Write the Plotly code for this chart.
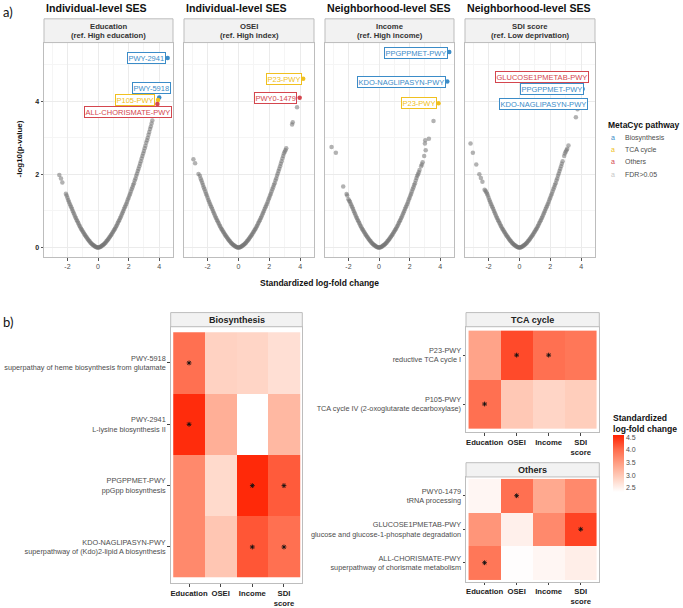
import plotly.graph_objects as go

W, H = 683, 608
FONT = "Liberation Sans, Arial, sans-serif"

BLUE = "#3B8CC8"
YELLOW = "#F0C020"
RED = "#D4464E"
GREY_PT = "rgba(115,115,115,0.55)"
path_colors = {"Biosynthesis": BLUE, "TCA cycle": YELLOW, "Others": RED}


def px(x):
    return x / W


def py(y):
    return 1 - y / H


# ---------------- a) volcano data ----------------
# shared dense centre of the V (pathways far from significance)
core_lfc = [-1.9, -1.8, -1.7, -1.6, -1.5, -1.4, -1.3, -1.2, -1.1, -1.0, -0.9, -0.8, -0.7,
            -0.6, -0.5, -0.4, -0.3, -0.2, -0.1, 0.0, 0.1, 0.2, 0.3, 0.4, 0.5, 0.6, 0.7,
            0.8, 0.9, 1.0, 1.1, 1.2, 1.3, 1.4, 1.5, 1.6, 1.7, 1.8, 1.9, 2.0, 2.1, 2.2, 2.3]
core_logp = [1.25, 1.15, 1.05, 0.95, 0.85, 0.76, 0.68, 0.59, 0.51, 0.44, 0.37, 0.31, 0.25,
             0.19, 0.14, 0.10, 0.06, 0.03, 0.01, 0.0, 0.01, 0.03, 0.06, 0.10, 0.14, 0.19, 0.25,
             0.31, 0.37, 0.44, 0.51, 0.59, 0.68, 0.76, 0.85, 0.95, 1.05, 1.15, 1.25, 1.36, 1.47, 1.59, 1.71]
core2_lfc = [-1.85, -1.75, -1.65, -1.55, -1.45, -1.35, -1.25, -1.15, -1.05, -0.95, -0.85, -0.75,
             -0.65, -0.55, -0.45, -0.35, -0.25, -0.15, -0.05, 0.05, 0.15, 0.25, 0.35, 0.45, 0.55,
             0.65, 0.75, 0.85, 0.95, 1.05, 1.15, 1.25, 1.35, 1.45, 1.55, 1.65, 1.75, 1.85, 1.95,
             2.05, 2.15, 2.25]
core2_logp = [1.20, 1.10, 1.00, 0.90, 0.81, 0.72, 0.63, 0.55, 0.48, 0.41, 0.34, 0.28,
              0.22, 0.17, 0.12, 0.08, 0.05, 0.02, 0.003, 0.003, 0.02, 0.05, 0.08, 0.12, 0.17,
              0.22, 0.28, 0.34, 0.41, 0.48, 0.55, 0.63, 0.72, 0.81, 0.90, 1.00, 1.10, 1.20, 1.31,
              1.42, 1.53, 1.65]

edu_tail_lfc = [-1.95, -2.0, -2.05, -2.1, -2.33, -2.42, -2.53, 2.35, 2.4, 2.45, 2.5, 2.55, 2.6,
                2.65, 2.7, 2.75, 2.8, 2.85, 2.9, 2.95, 3.0, 3.05, 3.1, 3.15, 3.2, 3.25, 3.3,
                3.35, 3.4, 3.45, 3.5, 3.55]
edu_tail_logp = [1.30, 1.36, 1.42, 1.47, 1.78, 1.89, 1.98, 1.76, 1.83, 1.89, 1.96, 2.02, 2.09,
                 2.15, 2.22, 2.29, 2.36, 2.43, 2.50, 2.57, 2.64, 2.71, 2.78, 2.86, 2.93, 3.00,
                 3.08, 3.16, 3.24, 3.31, 3.39, 3.47]
osei_tail_lfc = [-1.95, -2.0, -2.05, -2.1, -2.15, -2.2, -2.25, -2.3, -2.35, -2.4, -2.45, -2.5,
                 -2.59, -2.81, -2.92, 2.35, 2.4, 2.45, 2.5, 2.55, 2.6, 2.65, 2.7, 2.75, 2.8, 2.85,
                 2.9, 2.95, 3.0, 3.05, 3.1, 3.48, 3.52, 3.8]
osei_tail_logp = [1.30, 1.36, 1.42, 1.47, 1.53, 1.59, 1.65, 1.71, 1.77, 1.83, 1.89, 1.96,
                  2.01, 2.30, 2.41, 1.76, 1.83, 1.89, 1.96, 2.02, 2.09, 2.15, 2.22, 2.29, 2.36, 2.43,
                  2.50, 2.57, 2.62, 2.66, 2.71, 3.36, 3.42, 3.83]
inc_tail_lfc = [-1.95, -2.0, -2.08, -2.12, -2.34, -2.82, -3.1, 2.35, 2.4, 2.45, 2.5, 2.55, 2.6,
                2.65, 2.75, 2.8, 2.85, 2.95, 3.05, 3.0, 3.02, 3.26, 3.56]
inc_tail_logp = [1.28, 1.32, 1.42, 1.46, 1.67, 2.59, 2.75, 1.76, 1.83, 1.90, 1.96, 2.00, 2.06,
                 2.12, 2.22, 2.27, 2.33, 2.50, 2.66, 2.84, 2.93, 2.97, 3.46]
sdi_tail_lfc = [-1.95, -2.0, -2.05, -2.1, -2.15, -2.2, -2.26, -2.4, -2.5, -2.6, -2.8, -3.02,
                -3.17, 2.35, 2.4, 2.45, 2.5, 2.55, 2.6, 2.65, 2.7, 2.75, 2.8, 2.9, 2.95, 3.0,
                3.05, 3.1, 3.18, 3.66, 3.77]
sdi_tail_logp = [1.30, 1.36, 1.42, 1.47, 1.51, 1.55, 1.58, 1.80, 1.90, 2.00, 2.27, 2.59,
                 2.84, 1.76, 1.83, 1.89, 1.96, 2.02, 2.09, 2.15, 2.22, 2.29, 2.36, 2.50, 2.57, 2.62,
                 2.66, 2.70, 2.79, 3.56, 3.78]

edu_sig_name = ["PWY-2941", "PWY-5918", "P105-PWY", "ALL-CHORISMATE-PWY"]
edu_sig_path = ["Biosynthesis", "Biosynthesis", "TCA cycle", "Others"]
edu_sig_lfc = [4.55, 4.0, 3.92, 3.88]
edu_sig_logp = [5.18, 4.10, 4.03, 3.92]
osei_sig_name = ["P23-PWY", "PWY0-1479"]
osei_sig_path = ["TCA cycle", "Others"]
osei_sig_lfc = [4.2, 3.97]
osei_sig_logp = [4.61, 4.09]
inc_sig_name = ["PPGPPMET-PWY", "KDO-NAGLIPASYN-PWY", "P23-PWY"]
inc_sig_path = ["Biosynthesis", "Biosynthesis", "TCA cycle"]
inc_sig_lfc = [4.59, 4.46, 3.89]
inc_sig_logp = [5.34, 4.54, 3.94]
sdi_sig_name = ["GLUCOSE1PMETAB-PWY", "PPGPPMET-PWY", "KDO-NAGLIPASYN-PWY"]
sdi_sig_path = ["Others", "Biosynthesis", "Biosynthesis"]
sdi_sig_lfc = [4.3, 4.1, 4.2]
sdi_sig_logp = [4.68, 4.33, 3.93]

# ---------------- b) heatmap data ----------------
ses_cols = ["Education", "OSEI", "Income", "SDI<br>score"]
bio_rows = ["PWY-5918<br>superpathay of heme biosynthesis from glutamate",
            "PWY-2941<br>L-lysine biosynthesis II",
            "PPGPPMET-PWY<br>ppGpp biosynthesis",
            "KDO-NAGLIPASYN-PWY<br>superpathway of (Kdo)2-lipid A biosynthesis"]
bio_lfc = [[3.97, 2.88, 2.84, 2.72],
           [4.51, 3.29, 2.30, 3.18],
           [3.70, 2.79, 4.53, 4.15],
           [3.70, 3.02, 4.19, 3.97]]
bio_star = [[1, 0, 0, 0], [1, 0, 0, 0], [0, 0, 1, 1], [0, 0, 1, 1]]
tca_rows = ["P23-PWY<br>reductive TCA cycle I",
            "P105-PWY<br>TCA cycle IV (2-oxoglutarate decarboxylase)"]
tca_lfc = [[3.42, 4.28, 3.97, 3.90],
           [3.97, 3.00, 2.84, 2.93]]
tca_star = [[0, 1, 1, 0], [1, 0, 0, 0]]
oth_rows = ["PWY0-1479<br>tRNA processing",
            "GLUCOSE1PMETAB-PWY<br>glucose and glucose-1-phosphate degradation",
            "ALL-CHORISMATE-PWY<br>superpathway of chorismate metabolism"]
oth_lfc = [[2.45, 3.97, 3.36, 3.70],
           [3.58, 2.52, 3.70, 4.33],
           [3.90, 2.36, 2.45, 2.54]]
oth_star = [[0, 1, 0, 0], [0, 0, 0, 1], [1, 0, 0, 0]]

fig = go.Figure()
annotations = []
shapes = []


def note(x, y, text, size, color="#111", bold=False, anchor="center", **kw):
    # text placed in page pixels, vertically centred on y
    annotations.append(dict(
        x=px(x), y=py(y), xref="paper", yref="paper", text=text, showarrow=False,
        xanchor=anchor, yanchor="middle",
        font=dict(size=size, color=color, family=kw.pop("family", FONT),
                  weight="bold" if bold else "normal"), **kw))


volcano = [
    dict(title="Individual-level SES", strip=("Education", "(ref. High education)"),
         tx=edu_tail_lfc, ty=edu_tail_logp, sx=edu_sig_lfc, sy=edu_sig_logp,
         sn=edu_sig_name, sp=edu_sig_path, left=44, right=173,
         lab=[(4.42, 5.18), (4.75, 4.35), (3.73, 4.04), (4.82, 3.70)]),
    dict(title="Individual-level SES", strip=("OSEI", "(ref. High index)"),
         tx=osei_tail_lfc, ty=osei_tail_logp, sx=osei_sig_lfc, sy=osei_sig_logp,
         sn=osei_sig_name, sp=osei_sig_path, left=184, right=314,
         lab=[(4.14, 4.60), (3.82, 4.08)]),
    dict(title="Neighborhood-level SES", strip=("Income", "(ref. High income)"),
         tx=inc_tail_lfc, ty=inc_tail_logp, sx=inc_sig_lfc, sy=inc_sig_logp,
         sn=inc_sig_name, sp=inc_sig_path, left=325, right=454,
         lab=[(4.54, 5.31), (4.39, 4.53), (3.78, 3.94)]),
    dict(title="Neighborhood-level SES", strip=("SDI score", "(ref. Low deprivation)"),
         tx=sdi_tail_lfc, ty=sdi_tail_logp, sx=sdi_sig_lfc, sy=sdi_sig_logp,
         sn=sdi_sig_name, sp=sdi_sig_path, left=465, right=595,
         lab=[(4.54, 4.65), (4.21, 4.32), (4.43, 3.93)]),
]

V_TOP, V_BOT = 43, 260
for i, p in enumerate(volcano):
    n = i + 1
    xa, ya = ("x", "y") if n == 1 else (f"x{n}", f"y{n}")
    fig.add_trace(go.Scatter(
        x=core_lfc + core2_lfc + p["tx"], y=core_logp + core2_logp + p["ty"], mode="markers",
        marker=dict(size=4.5, color=GREY_PT, line=dict(width=0)),
        xaxis=xa, yaxis=ya, showlegend=False, hoverinfo="skip"))
    fig.add_trace(go.Scatter(
        x=p["sx"], y=p["sy"], mode="markers",
        marker=dict(size=4.5, color=[path_colors[c] for c in p["sp"]]),
        xaxis=xa, yaxis=ya, showlegend=False, hoverinfo="skip"))
    for name, path, (lx, ly) in zip(p["sn"], p["sp"], p["lab"]):
        annotations.append(dict(
            x=lx, y=ly, xref=xa, yref=ya, text=name, showarrow=False,
            xanchor="right", yanchor="middle", bgcolor="white",
            bordercolor=path_colors[path], borderwidth=1, borderpad=0.5,
            font=dict(size=7.5, color=path_colors[path], family=FONT)))
    fig.layout[f"xaxis{'' if n == 1 else n}"] = dict(
        domain=[px(p["left"]), px(p["right"])], anchor=ya, range=[-3.53, 4.9],
        tickvals=[-2, 0, 2, 4], ticktext=["-2", "0", "2", "4"],
        showline=True, mirror=True, linecolor="#BDBDBD", linewidth=1,
        zeroline=False, showgrid=True, gridcolor="#EBEBEB", gridwidth=0.8,
        minor=dict(tickvals=[-3, -1, 1, 3], showgrid=True, gridcolor="#F5F5F5", gridwidth=0.5),
        ticks="outside", ticklen=2.5, tickcolor="#555",
        tickfont=dict(size=7, color="#4D4D4D", family=FONT))
    fig.layout[f"yaxis{'' if n == 1 else n}"] = dict(
        domain=[py(V_BOT), py(V_TOP)], anchor=xa, range=[-0.27, 5.6],
        tickvals=[0, 2, 4], showticklabels=(n == 1),
        showline=True, mirror=True, linecolor="#BDBDBD", linewidth=1,
        zeroline=False, showgrid=True, gridcolor="#EBEBEB", gridwidth=0.8,
        minor=dict(tickvals=[1, 3, 5], showgrid=True, gridcolor="#F5F5F5", gridwidth=0.5),
        ticks="outside" if n == 1 else "", ticklen=2.5, tickcolor="#555",
        tickfont=dict(size=7, color="#222", family=FONT, weight="bold"))
    # strip and group title
    shapes.append(dict(type="rect", xref="paper", yref="paper",
                       x0=px(p["left"]), x1=px(p["right"]), y0=py(V_TOP), y1=py(19),
                       fillcolor="#F2F2F2", line=dict(color="#BDBDBD", width=1)))
    cx = (p["left"] + p["right"]) / 2
    note(cx, 26.5, p["strip"][0], 7.7, "#333", bold=True)
    note(cx, 35.7, p["strip"][1], 7.7, "#333", bold=True)
    note(p["left"], 8.5, p["title"], 10.6, bold=True, anchor="left")

note(1, 12, "a)", 13, anchor="left", family="Lato")
note(1, 325, "b)", 13, anchor="left", family="Lato")
note(20, 151, "-log10(p-value)", 8, bold=True, textangle=-90)
note(319.5, 286, "Standardized log-fold change", 8.5, bold=True)
note(606, 126.5, "MetaCyc pathway", 8.5, bold=True, anchor="left")

legend_items = [("Biosynthesis", BLUE), ("TCA cycle", YELLOW), ("Others", RED), ("FDR>0.05", "#C8C8C8")]
for k, (lab, col) in enumerate(legend_items):
    yy = 139 + k * 12.3
    note(612.7, yy, "a", 7, col)
    note(623, yy, lab, 7, "#4D4D4D", anchor="left")

# ---------------- b) heatmaps ----------------
heat = [
    dict(name="Biosynthesis", rows=bio_rows, z=bio_lfc, star=bio_star,
         x0=170.7, x1=302.3, strip_top=315.7, top=330, bot=589, ypad=0.09),
    dict(name="TCA cycle", rows=tca_rows, z=tca_lfc, star=tca_star,
         x0=466, x1=599.3, strip_top=315.7, top=330, bot=436.7, ypad=0.08),
    dict(name="Others", rows=oth_rows, z=oth_lfc, star=oth_star,
         x0=466, x1=599.3, strip_top=467.3, top=481.7, bot=587.3, ypad=0.06),
]
for j, h in enumerate(heat):
    n = 5 + j
    xa, ya = f"x{n}", f"y{n}"
    nr = len(h["rows"])
    fig.add_trace(go.Heatmap(
        z=h["z"], x=[0, 1, 2, 3], y=list(range(nr)), coloraxis="coloraxis",
        xaxis=xa, yaxis=ya, hoverinfo="skip"))
    sx = [c for r in range(nr) for c in range(4) if h["star"][r][c]]
    sy = [r for r in range(nr) for c in range(4) if h["star"][r][c]]
    fig.add_trace(go.Scatter(
        x=sx, y=sy, mode="markers", xaxis=xa, yaxis=ya, showlegend=False, hoverinfo="skip",
        marker=dict(symbol="asterisk-open", size=4, color="#111", line=dict(width=0.9, color="#111"))))
    fig.layout[f"xaxis{n}"] = dict(
        domain=[px(h["x0"]), px(h["x1"])], anchor=ya, range=[-0.58, 3.58],
        tickvals=[0, 1, 2, 3], ticktext=ses_cols, showgrid=False, zeroline=False,
        showline=True, mirror=True, linecolor="#BDBDBD", linewidth=1,
        ticks="outside", ticklen=2.5, tickcolor="#444",
        tickfont=dict(size=7.7, color="#222", family=FONT, weight="bold"))
    fig.layout[f"yaxis{n}"] = dict(
        domain=[py(h["bot"]), py(h["top"])], anchor=xa,
        range=[nr - 0.5 + h["ypad"], -0.5 - h["ypad"]],
        tickvals=list(range(nr)), ticktext=h["rows"], showgrid=False, zeroline=False,
        showline=True, mirror=True, linecolor="#BDBDBD", linewidth=1,
        ticks="outside", ticklen=2.5, tickcolor="#444",
        tickfont=dict(size=7.3, color="#4D4D4D", family=FONT))
    shapes.append(dict(type="rect", xref="paper", yref="paper",
                       x0=px(h["x0"]), x1=px(h["x1"]), y0=py(h["top"]), y1=py(h["strip_top"]),
                       fillcolor="#F2F2F2", line=dict(color="#BDBDBD", width=1)))
    note((h["x0"] + h["x1"]) / 2, (h["top"] + h["strip_top"]) / 2, h["name"], 9, "#222", bold=True)

note(611, 427.5, "Standardized<br>log-fold change", 8.6, bold=True, anchor="left", align="left")

fig.update_layout(
    width=W, height=H, autosize=False,
    margin=dict(l=0, r=0, t=0, b=0),
    paper_bgcolor="white", plot_bgcolor="white",
    font=dict(family=FONT),
    showlegend=False, hovermode=False,
    shapes=shapes, annotations=annotations,
    coloraxis=dict(
        cmin=2.34, cmax=4.6,
        colorscale=[[0, "#FFFFFF"], [0.25, "#FFD0BF"], [0.5, "#FF9F84"], [0.75, "#FF6A4A"], [1, "#FF2000"]],
        colorbar=dict(x=px(613.3), xanchor="left", y=py(468), yanchor="middle",
                      len=58 / H, lenmode="fraction", thickness=11, thicknessmode="pixels",
                      xpad=0, ypad=0, outlinewidth=0, ticks="",
                      tickvals=[2.5, 3.0, 3.5, 4.0, 4.5], ticktext=["2.5", "3.0", "3.5", "4.0", "4.5"],
                      tickfont=dict(size=7, color="#4D4D4D", family=FONT)),
    ),
)

fig.write_html("out.html", config={"displayModeBar": False},
               post_script="document.body.style.margin='0';")
